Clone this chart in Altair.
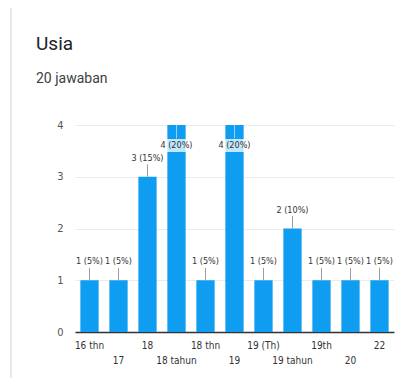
import json
import altair as alt
import pandas as pd

categories = ["16 thn", "17", "18", "18 tahun", "18 thn", "19", "19 (Th)",
              "19 tahun", "19th", "20", "22"]
counts = [1, 1, 3, 4, 1, 4, 1, 2, 1, 1, 1]
y_ticks = [0, 0.5, 1, 1.5, 2, 2.5, 3, 3.5, 4]
title_text = "Usia"
subtitle_text = "20 jawaban"

total = sum(counts)
ymax = max(y_ticks)

df = pd.DataFrame({"cat": categories, "n": counts})

LABEL_FONT = "Liberation Sans Narrow, DejaVu Sans Condensed, Roboto, sans-serif"
BLUE = "#0f9df2"

cat_json = json.dumps(categories)
x_enc = alt.X(
    "cat:N", sort=categories,
    scale=alt.Scale(paddingInner=0.37, paddingOuter=0.185),
    axis=alt.Axis(
        title=None, labelAngle=0, ticks=False, domainColor="#333333",
        domainWidth=1.5, labelOverlap=False,
        labelExpr=f"indexof({cat_json}, datum.value) % 2 ? ['', datum.label] : datum.label",
        labelFont=LABEL_FONT, labelFontSize=10, labelColor="#333333",
        labelPadding=8, labelLineHeight=15, labelBaseline="top",
    ),
)
y_scale = alt.Scale(domain=[0, ymax], nice=False)
y_enc = alt.Y(
    "n:Q", scale=y_scale,
    axis=alt.Axis(
        values=y_ticks, title=None, domain=False, ticks=False,
        labelExpr="datum.value % 1 ? '' : format(datum.value, 'd')",
        gridColor="#ebebeb", labelPadding=12, labelFontSize=11,
        labelFont=LABEL_FONT, labelColor="#555555",
    ),
)

base = alt.Chart(df).transform_calculate(
    lab=f"datum.n + ' (' + round(datum.n / {total} * 100) + '%)'",
    ismax=f"datum.n >= {ymax}",
)

bars = base.mark_bar(color=BLUE).encode(x=x_enc, y=y_enc)

lead_out = base.transform_filter("!datum.ismax").transform_calculate(
    y2v="datum.n + 0.24").mark_rule(color="#9e9e9e", strokeWidth=1).encode(
    x=alt.X("cat:N", sort=categories), y="n:Q", y2="y2v:Q")

lead_in = base.transform_filter("datum.ismax").transform_calculate(
    y2v="datum.n - 0.26").mark_rule(color="#ffffff", opacity=0.55, strokeWidth=1).encode(
    x=alt.X("cat:N", sort=categories), y="n:Q", y2="y2v:Q")

box_in = base.transform_filter("datum.ismax").transform_calculate(
    b1="datum.n - 0.27", b2="datum.n - 0.52").mark_bar(
    color="#ffffff", opacity=0.75, width=32).encode(
    x=alt.X("cat:N", sort=categories), y="b1:Q", y2="b2:Q")

text_out = base.transform_filter("!datum.ismax").mark_text(
    dy=-19, font=LABEL_FONT, fontSize=9, color="#333333", baseline="middle").encode(
    x=alt.X("cat:N", sort=categories), y="n:Q", text="lab:N")

text_in = base.transform_filter("datum.ismax").mark_text(
    dy=20, font=LABEL_FONT, fontSize=9, color="#333333", baseline="middle").encode(
    x=alt.X("cat:N", sort=categories), y="n:Q", text="lab:N")

card_line = alt.Chart(pd.DataFrame({"k": [0]})).mark_rule(
    color="#e0e0e0", strokeWidth=1.5).encode(
    x=alt.value(-64), y=alt.value(-117), y2=alt.value(253))

chart = alt.layer(bars, lead_out, lead_in, box_in, text_out, text_in, card_line).properties(
    width=319, height=207,
    padding={"left": 75, "top": 125, "right": 4, "bottom": 46},
    autosize=alt.AutoSizeParams(type="none"),
    background="#ffffff",
    title=alt.TitleParams(
        text=title_text, subtitle=subtitle_text, anchor="start", frame="group",
        dx=-39, offset=0, dy=78.5, font="Roboto", fontSize=19, fontWeight="normal",
        color="#202124", subtitleFont="Roboto", subtitleFontSize=14,
        subtitleColor="#3c4043", subtitlePadding=17.5,
    ),
).configure_view(stroke=None)

chart.save("out.html", embed_options={"renderer": "svg", "actions": False})
